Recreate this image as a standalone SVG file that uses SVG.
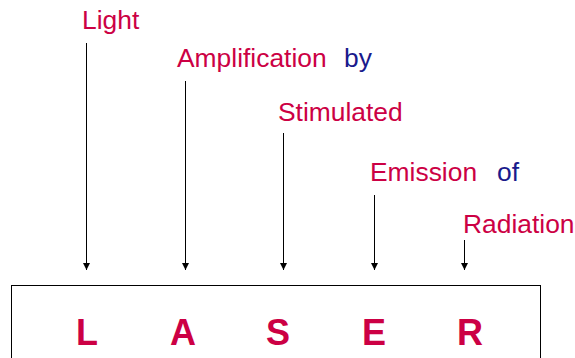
<svg xmlns="http://www.w3.org/2000/svg" width="575" height="358" viewBox="0 0 575 358">
<style>
.w{font-family:"Liberation Sans",Arial,sans-serif;font-size:26.4px;fill:#cc0044}
.b{font-family:"Liberation Sans",Arial,sans-serif;font-size:26.4px;fill:#1a1a8c}
.L{font-family:"Liberation Sans",Arial,sans-serif;font-size:36px;font-weight:bold;fill:#cc0044;text-anchor:middle}
.c{stroke:#000;stroke-width:1;fill:none}
</style>
<defs>
<marker id="ah" markerWidth="8" markerHeight="8" refX="7" refY="4" orient="auto" markerUnits="userSpaceOnUse">
<path d="M0,0.5 L7,4 L0,7.5 Z" fill="#000"/>
</marker>
</defs>
<rect width="575" height="358" fill="#fff"/>
<g id="words">
<text class="w" x="82" y="29">Light</text>
<text class="w" x="177" y="67">Amplification</text>
<text class="b" x="344" y="67">by</text>
<text class="w" x="278" y="121">Stimulated</text>
<text class="w" x="370" y="181">Emission</text>
<text class="b" x="497" y="181">of</text>
<text class="w" x="463" y="233">Radiation</text>
</g>
<g id="connectors">
<line class="c" x1="86.5" y1="43" x2="86.5" y2="270" marker-end="url(#ah)"/>
<line class="c" x1="185.5" y1="81" x2="185.5" y2="270" marker-end="url(#ah)"/>
<line class="c" x1="283.5" y1="133" x2="283.5" y2="270" marker-end="url(#ah)"/>
<line class="c" x1="374.5" y1="195" x2="374.5" y2="270" marker-end="url(#ah)"/>
<line class="c" x1="464.5" y1="240" x2="464.5" y2="270" marker-end="url(#ah)"/>
</g>
<g id="laser">
<rect x="11.5" y="285.5" width="529" height="90" fill="none" stroke="#000" stroke-width="1"/>
<text class="L" x="87" y="345">L</text>
<text class="L" x="183" y="345">A</text>
<text class="L" x="278" y="345">S</text>
<text class="L" x="374" y="345">E</text>
<text class="L" x="470" y="345">R</text>
</g>
</svg>
